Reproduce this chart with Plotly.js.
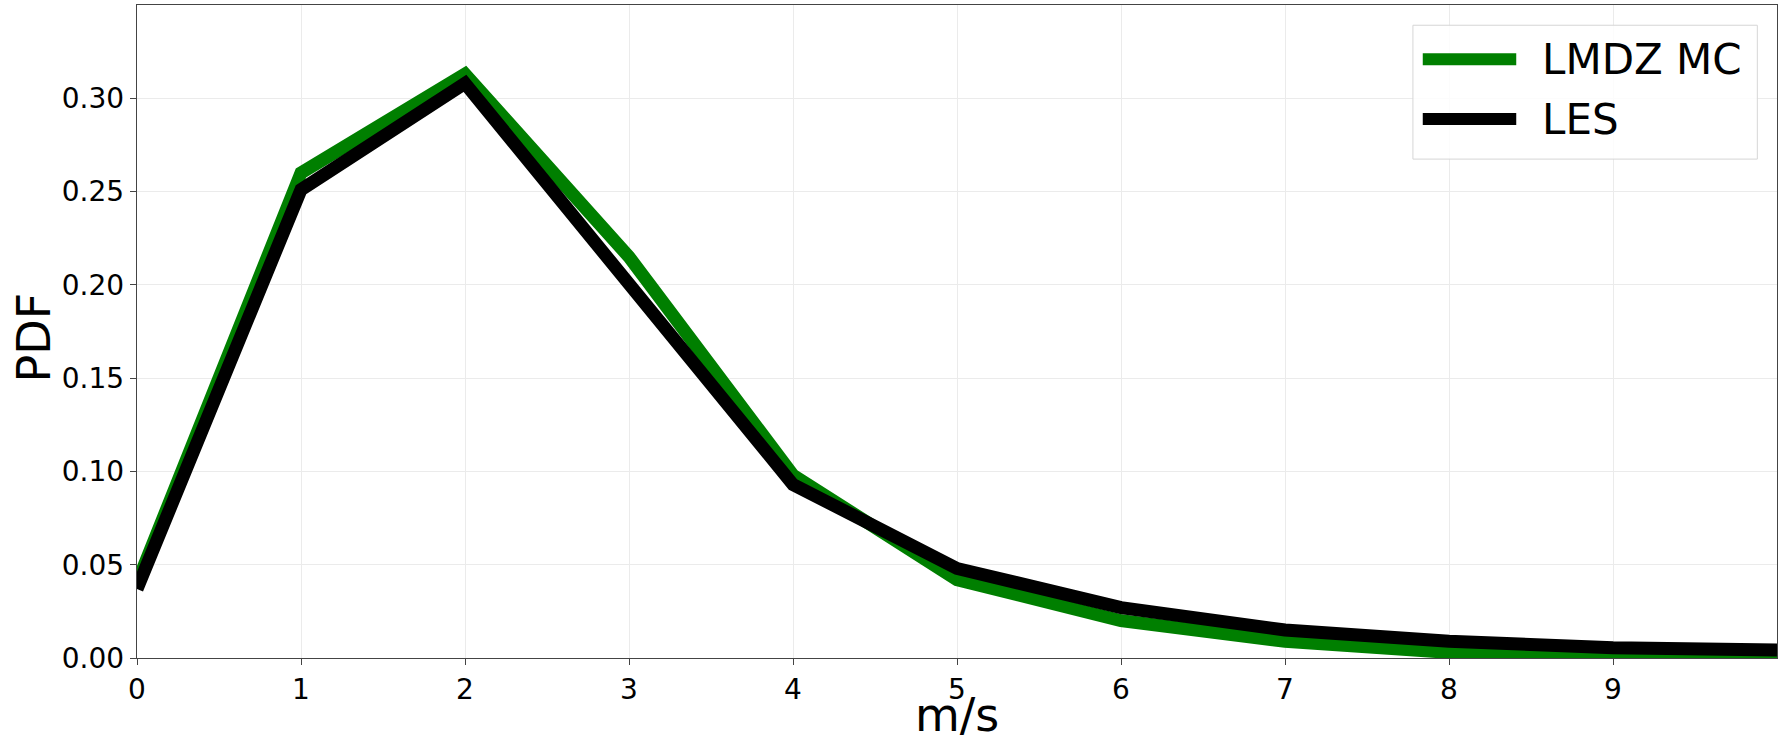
<!DOCTYPE html>
<html>
<head>
<meta charset="utf-8">
<script src="https://cdn.plot.ly/plotly-3.0.1.min.js"></script>
<style>html,body{margin:0;padding:0;background:#fff;}#chart{width:1778px;height:745px;}</style>
</head>
<body>
<div id="chart"></div>
<script>
const windSpeed = [0, 1, 2, 3, 4, 5, 6, 7, 8, 9, 10];
const lmdzMC = [0.040, 0.260, 0.313, 0.215, 0.098, 0.042, 0.020, 0.009, 0.003, 0.0015, 0.001];
const les = [0.037, 0.251, 0.308, 0.200, 0.093, 0.048, 0.027, 0.015, 0.009, 0.0055, 0.0043];
const seriesNames = ["LMDZ MC", "LES"];
const seriesColors = ["#007f00", "#000000"];
const xTicks = [0, 1, 2, 3, 4, 5, 6, 7, 8, 9];
const yTicks = [0, 0.05, 0.10, 0.15, 0.20, 0.25, 0.30];
const xTitle = "m/s";
const yTitle = "PDF";

const font = "DejaVu Sans, sans-serif";
const traces = [
  {x: windSpeed, y: lmdzMC, name: seriesNames[0], mode: "lines", line: {color: seriesColors[0], width: 13}},
  {x: windSpeed, y: les, name: seriesNames[1], mode: "lines", line: {color: seriesColors[1], width: 13}}
];

// custom legend (paper coordinates)
const lgX0 = 0.778, lgX1 = 0.988, lgY0 = 0.764, lgY1 = 0.969;
const rowY = [0.917, 0.8254];
const shapes = [
  {type: "rect", xref: "paper", yref: "paper", x0: lgX0, x1: lgX1, y0: lgY0, y1: lgY1,
   line: {color: "#d6d6d6", width: 1}, fillcolor: "rgba(255,255,255,0.85)", layer: "above"}
];
const annotations = [];
seriesNames.forEach((n, i) => {
  shapes.push({type: "line", xref: "paper", yref: "paper", x0: 0.784, x1: 0.841, y0: rowY[i], y1: rowY[i],
    line: {color: seriesColors[i], width: 12}, layer: "above"});
  annotations.push({xref: "paper", yref: "paper", x: 0.8555, y: rowY[i], xanchor: "left", yanchor: "middle",
    text: n, showarrow: false, font: {family: font, size: 42, color: "#000"}});
});
// axis titles
annotations.push({xref: "paper", yref: "paper", x: 0.5, y: -0.131, xanchor: "center", yanchor: "bottom",
  text: xTitle, showarrow: false, font: {family: font, size: 46, color: "#000"}});
annotations.push({xref: "paper", yref: "paper", x: -0.0625, y: 0.49, xanchor: "center", yanchor: "middle",
  textangle: -90, text: yTitle, showarrow: false, font: {family: font, size: 46, color: "#000"}});

const layout = {
  width: 1778, height: 745,
  margin: {l: 137, r: 1, t: 5, b: 87},
  paper_bgcolor: "#fff", plot_bgcolor: "#fff",
  showlegend: false,
  font: {family: font, color: "#000"},
  xaxis: {
    range: [0, 10], tickvals: xTicks, ticktext: xTicks.map(String),
    showgrid: true, gridcolor: "#ebebeb", gridwidth: 1, zeroline: false,
    showline: true, linecolor: "#444", linewidth: 1.3, mirror: true,
    ticks: "outside", ticklen: 6, tickcolor: "#444",
    tickfont: {family: font, size: 28, color: "#000"}
  },
  yaxis: {
    range: [0, 0.35], tickvals: yTicks, ticktext: yTicks.map(v => v.toFixed(2)),
    showgrid: true, gridcolor: "#ebebeb", gridwidth: 1, zeroline: false,
    showline: true, linecolor: "#444", linewidth: 1.3, mirror: true,
    ticks: "outside", ticklen: 6, tickcolor: "#444",
    tickfont: {family: font, size: 28, color: "#000"}
  },
  shapes: shapes,
  annotations: annotations
};

Plotly.newPlot("chart", traces, layout, {displayModeBar: false, staticPlot: true});
</script>
</body>
</html>
